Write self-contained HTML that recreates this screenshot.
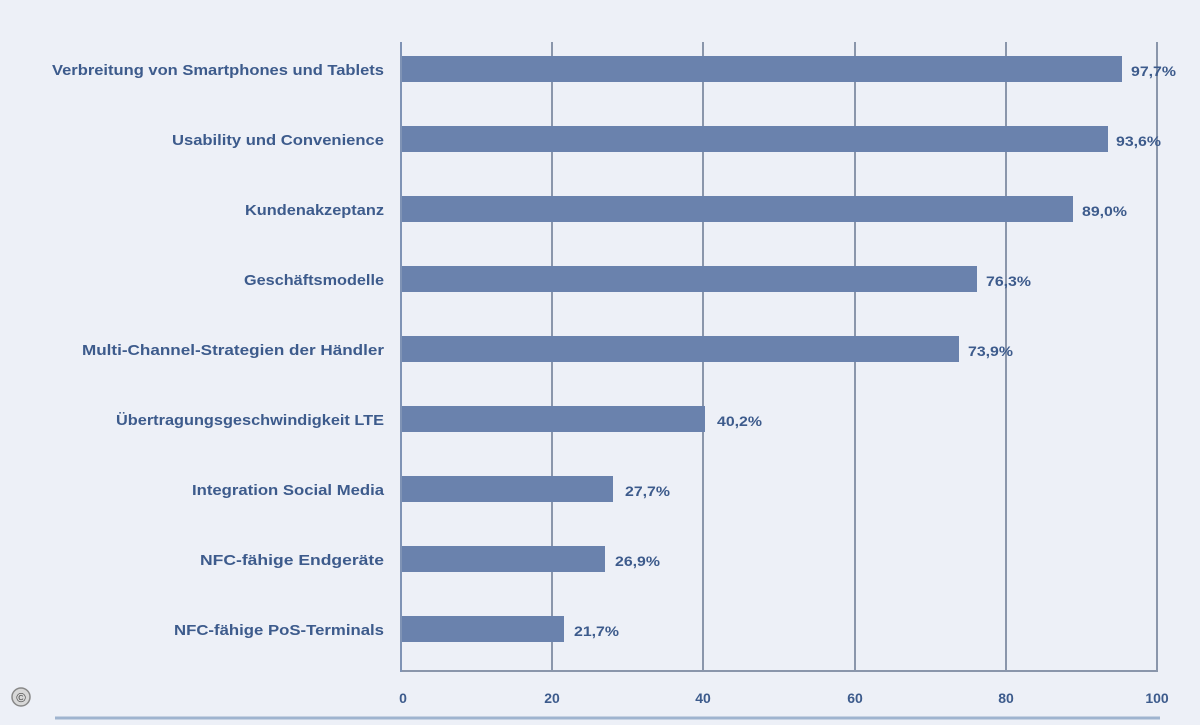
<!DOCTYPE html>
<html><head><style>
body{margin:0;background:#edf0f7;width:1200px;height:720px;overflow:hidden;font-family:"Liberation Sans",sans-serif}
</style></head><body>
<svg width="1200" height="720" xmlns="http://www.w3.org/2000/svg">
<rect width="1200" height="720" fill="#edf0f7"/>
<g stroke="#8a96ab" stroke-width="2">
<line x1="552" y1="42" x2="552" y2="671"/>
<line x1="703" y1="42" x2="703" y2="671"/>
<line x1="855" y1="42" x2="855" y2="671"/>
<line x1="1006" y1="42" x2="1006" y2="671"/>
<line x1="1157" y1="42" x2="1157" y2="671"/>
<line x1="401" y1="671" x2="1158" y2="671"/>
</g>
<line x1="401" y1="42" x2="401" y2="672" stroke="#7f93b5" stroke-width="2"/>
<g fill="#6a82ad">
<rect x="402" y="56" width="720" height="26"/>
<rect x="402" y="126" width="706" height="26"/>
<rect x="402" y="196" width="671" height="26"/>
<rect x="402" y="266" width="575" height="26"/>
<rect x="402" y="336" width="557" height="26"/>
<rect x="402" y="406" width="303" height="26"/>
<rect x="402" y="476" width="211" height="26"/>
<rect x="402" y="546" width="203" height="26"/>
<rect x="402" y="616" width="162" height="26"/>
</g>
<g fill="#3d5b8c" font-size="15" font-weight="bold" lengthAdjust="spacingAndGlyphs">
<text x="52" y="75" textLength="332" lengthAdjust="spacingAndGlyphs">Verbreitung von Smartphones und Tablets</text>
<text x="172" y="145" textLength="212" lengthAdjust="spacingAndGlyphs">Usability und Convenience</text>
<text x="245" y="215" textLength="139" lengthAdjust="spacingAndGlyphs">Kundenakzeptanz</text>
<text x="244" y="285" textLength="140" lengthAdjust="spacingAndGlyphs">Geschäftsmodelle</text>
<text x="82" y="355" textLength="302" lengthAdjust="spacingAndGlyphs">Multi-Channel-Strategien der Händler</text>
<text x="116" y="425" textLength="268" lengthAdjust="spacingAndGlyphs">Übertragungsgeschwindigkeit LTE</text>
<text x="192" y="495" textLength="192" lengthAdjust="spacingAndGlyphs">Integration Social Media</text>
<text x="200" y="565" textLength="184" lengthAdjust="spacingAndGlyphs">NFC-fähige Endgeräte</text>
<text x="174" y="635" textLength="210" lengthAdjust="spacingAndGlyphs">NFC-fähige PoS-Terminals</text>
</g>
<g fill="#3d5b8c" font-size="14" font-weight="bold">
<text x="1131" y="76" textLength="45" lengthAdjust="spacingAndGlyphs">97,7%</text>
<text x="1116" y="146" textLength="45" lengthAdjust="spacingAndGlyphs">93,6%</text>
<text x="1082" y="216" textLength="45" lengthAdjust="spacingAndGlyphs">89,0%</text>
<text x="986" y="286" textLength="45" lengthAdjust="spacingAndGlyphs">76,3%</text>
<text x="968" y="356" textLength="45" lengthAdjust="spacingAndGlyphs">73,9%</text>
<text x="717" y="426" textLength="45" lengthAdjust="spacingAndGlyphs">40,2%</text>
<text x="625" y="496" textLength="45" lengthAdjust="spacingAndGlyphs">27,7%</text>
<text x="615" y="566" textLength="45" lengthAdjust="spacingAndGlyphs">26,9%</text>
<text x="574" y="636" textLength="45" lengthAdjust="spacingAndGlyphs">21,7%</text>
</g>
<g fill="#3d5b8c" font-size="14" font-weight="bold" text-anchor="middle">
<text x="403" y="703">0</text>
<text x="552" y="703">20</text>
<text x="703" y="703">40</text>
<text x="855" y="703">60</text>
<text x="1006" y="703">80</text>
<text x="1157" y="703">100</text>
</g>
<circle cx="21" cy="697" r="9" fill="#d8d8d8" stroke="#888" stroke-width="1.5"/>
<text x="21" y="702" font-size="13" text-anchor="middle" fill="#444">©</text>
<line x1="55" y1="718" x2="1160" y2="718" stroke="#9fb4cf" stroke-width="3"/>
</svg>
</body></html>
